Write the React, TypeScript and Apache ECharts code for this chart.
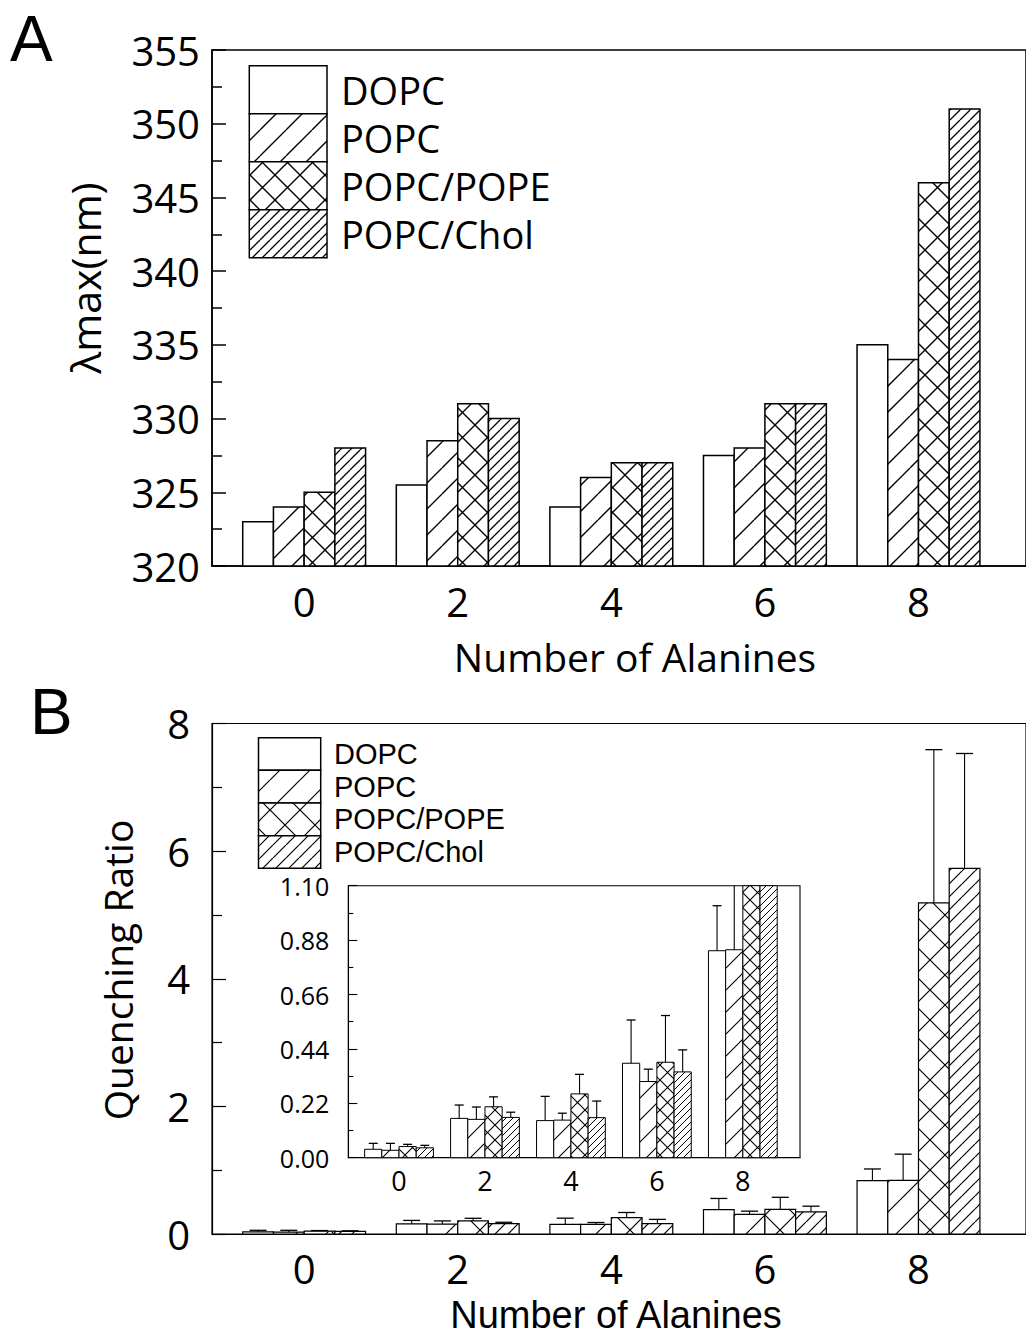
import React, { useEffect, useRef } from 'react';
import * as echarts from 'echarts';

// ---------- data ----------
const alanineLabels = ['0', '2', '4', '6', '8'];
const alaninePos = [0, 2, 4, 6, 8];
const lipids = ['DOPC', 'POPC', 'POPC/POPE', 'POPC/Chol'];

// Panel A: λmax (nm)
const lambdaDOPC = [323, 325.5, 324, 327.5, 335];
const lambdaPOPC = [324, 328.5, 326, 328, 334];
const lambdaPOPE = [325, 331, 327, 331, 346];
const lambdaChol = [328, 330, 327, 331, 351];

// Panel B: quenching ratio (mean) and upper error
const quenchDOPC = [0.034, 0.159, 0.15, 0.382, 0.837];
const quenchPOPC = [0.03, 0.155, 0.152, 0.308, 0.841];
const quenchPOPE = [0.045, 0.206, 0.258, 0.386, 5.19];
const quenchChol = [0.04, 0.163, 0.162, 0.347, 5.73];
const errDOPC = [0.024, 0.054, 0.098, 0.175, 0.182];
const errPOPC = [0.028, 0.05, 0.028, 0.05, 0.41];
const errPOPE = [0.009, 0.04, 0.079, 0.189, 2.4];
const errChol = [0.01, 0.021, 0.067, 0.089, 1.8];

// axis ticks
const yTicksA = [320, 325, 330, 335, 340, 345, 350, 355];
const yTicksB = [0, 2, 4, 6, 8];
const yTicksInset = [0, 0.22, 0.44, 0.66, 0.88, 1.1];

const FONT = "'Open Sans', 'DejaVu Sans', sans-serif";
const FONT2 = "'Liberation Sans', Arial, sans-serif";

function makePattern(kind: string, p: number, lw: number): any {
  if (kind === 'none') return '#fff';
  const c = document.createElement('canvas');
  c.width = p;
  c.height = p;
  const ctx = c.getContext('2d') as CanvasRenderingContext2D;
  ctx.fillStyle = '#fff';
  ctx.fillRect(0, 0, p, p);
  ctx.strokeStyle = '#000';
  ctx.lineWidth = lw;
  ctx.beginPath();
  for (const o of [-p, 0, p]) {
    ctx.moveTo(o, p);
    ctx.lineTo(o + p, 0);
    if (kind === 'cross') {
      ctx.moveTo(o, 0);
      ctx.lineTo(o + p, p);
    }
  }
  ctx.stroke();
  return { image: c, repeat: 'repeat', imageWidth: p, imageHeight: p };
}

function barRenderer(k: number, fill: any, axisMin: number, clipMax: number, capPx: number, lw: number) {
  return (params: any, api: any) => {
    const x = api.value(0);
    const v = api.value(1);
    const e = api.value(2);
    const cx = x + (k - 1.5) * 0.4;
    const left = api.coord([cx - 0.2, axisMin])[0];
    const right = api.coord([cx + 0.2, axisMin])[0];
    const base = api.coord([cx, axisMin])[1];
    const topV = Math.min(v, clipMax);
    const top = api.coord([cx, topV])[1];
    const children: any[] = [
      {
        type: 'rect',
        shape: { x: left, y: top, width: right - left, height: base - top },
        style: { fill, stroke: '#000', lineWidth: lw },
      },
    ];
    if (e > 0 && v < clipMax) {
      const eTop = v + e;
      const ey = api.coord([cx, Math.min(eTop, clipMax)])[1];
      const mx = (left + right) / 2;
      children.push({
        type: 'line',
        shape: { x1: mx, y1: top, x2: mx, y2: ey },
        style: { stroke: '#000', lineWidth: 1.1 },
      });
      if (eTop <= clipMax) {
        children.push({
          type: 'line',
          shape: { x1: mx - capPx / 2, y1: ey, x2: mx + capPx / 2, y2: ey },
          style: { stroke: '#000', lineWidth: 1.3 },
        });
      }
    }
    return { type: 'group', children };
  };
}

export default function App() {
  const ref = useRef<HTMLDivElement>(null);
  useEffect(() => {
    if (!ref.current) return;
    const chart = echarts.init(ref.current, null, { renderer: 'svg' });

    const patA = [makePattern('none', 0, 0), makePattern('fwd', 26, 1.4), makePattern('cross', 25, 1.4), makePattern('fwd', 10, 1.3)];
    const patB = [makePattern('none', 0, 0), makePattern('fwd', 30, 1.2), makePattern('cross', 30, 1.2), makePattern('fwd', 13, 1.2)];
    const patI = [makePattern('none', 0, 0), makePattern('fwd', 22, 1.1), makePattern('cross', 15, 1.1), makePattern('fwd', 7, 1.0)];

    const lambdaSets = [lambdaDOPC, lambdaPOPC, lambdaPOPE, lambdaChol];
    const quenchSets = [quenchDOPC, quenchPOPC, quenchPOPE, quenchChol];
    const errSets = [errDOPC, errPOPC, errPOPE, errChol];

    const series: any[] = [];
    lipids.forEach((name, k) => {
      series.push({
        type: 'custom',
        name,
        xAxisIndex: 0,
        yAxisIndex: 0,
        renderItem: barRenderer(k, patA[k], yTicksA[0], yTicksA[yTicksA.length - 1], 0, 1.5),
        encode: { x: 0, y: 1 },
        data: alaninePos.map((x, i) => [x, lambdaSets[k][i], 0]),
      });
      series.push({
        type: 'custom',
        name,
        xAxisIndex: 1,
        yAxisIndex: 1,
        renderItem: barRenderer(k, patB[k], yTicksB[0], yTicksB[yTicksB.length - 1], 17, 1.2),
        encode: { x: 0, y: 1 },
        data: alaninePos.map((x, i) => [x, quenchSets[k][i], errSets[k][i]]),
      });
      series.push({
        type: 'custom',
        name,
        xAxisIndex: 2,
        yAxisIndex: 2,
        z: 5,
        renderItem: barRenderer(k, patI[k], yTicksInset[0], yTicksInset[yTicksInset.length - 1], 9, 1.0),
        encode: { x: 0, y: 1 },
        data: alaninePos.map((x, i) => [x, quenchSets[k][i], errSets[k][i]]),
      });
    });

    const xAxisBase = (gridIndex: number, min: number, max: number, fontSize: number, margin: number, lw: number) => ({
      gridIndex,
      type: 'value',
      min,
      max,
      axisLine: { show: true, onZero: false, lineStyle: { color: '#000', width: lw } },
      axisTick: { show: false },
      splitLine: { show: false },
      axisLabel: {
        customValues: alaninePos,
        formatter: (v: number) => alanineLabels[alaninePos.indexOf(v)] ?? '',
        fontSize,
        fontFamily: FONT,
        color: '#000',
        margin,
      },
    });

    const yAxisBase = (
      gridIndex: number,
      ticks: number[],
      fontSize: number,
      margin: number,
      tickLen: number,
      minorLen: number,
      lw: number,
      fmt?: (v: number) => string
    ) => ({
      gridIndex,
      type: 'value',
      min: ticks[0],
      max: ticks[ticks.length - 1],
      interval: ticks[1] - ticks[0],
      axisLine: { show: true, onZero: false, lineStyle: { color: '#000', width: lw } },
      axisTick: { show: true, inside: true, length: tickLen, lineStyle: { color: '#000', width: lw } },
      minorTick: { show: true, splitNumber: 2, length: minorLen, lineStyle: { color: '#000', width: lw } },
      splitLine: { show: false },
      axisLabel: {
        fontSize,
        fontFamily: FONT,
        color: '#000',
        margin,
        formatter: fmt || ((v: number) => String(v)),
      },
    });

    const legendGraphics = (
      x: number,
      y: number,
      w: number,
      h: number,
      pats: any[],
      tx: number,
      fs: number,
      family: string
    ) => {
      const els: any[] = [];
      lipids.forEach((name, k) => {
        els.push({
          type: 'rect',
          shape: { x, y: y + k * h, width: w, height: h },
          style: { fill: pats[k], stroke: '#000', lineWidth: 1.5 },
        });
        els.push({
          type: 'text',
          x: tx,
          y: y + k * h + h / 2,
          style: {
            text: name,
            fontSize: fs,
            lineHeight: Math.min(fs, h - 1),
            fontFamily: family,
            fill: '#000',
            align: 'left',
            verticalAlign: 'middle',
          },
        });
      });
      return els;
    };

    const textEl = (text: string, x: number, y: number, fs: number, rot = 0, align = 'center', family = FONT) => ({
      type: 'text',
      x,
      y,
      rotation: rot,
      style: {
        text,
        fontSize: fs,
        lineHeight: fs,
        fontFamily: family,
        fill: '#000',
        align,
        verticalAlign: 'middle',
      },
    });

    chart.setOption({
      animation: false,
      backgroundColor: '#fff',
      grid: [
        { left: 212, top: 50, width: 830, height: 516, show: true, borderColor: '#000', borderWidth: 1.5, backgroundColor: 'transparent' },
        { left: 212, top: 723.5, width: 830, height: 510.5, show: true, borderColor: '#000', borderWidth: 1.2, backgroundColor: 'transparent' },
        { left: 348.3, top: 885.7, width: 451.7, height: 272, show: true, borderColor: '#000', borderWidth: 1.1, backgroundColor: '#fff', z: 3 },
      ],
      xAxis: [
        xAxisBase(0, -1.2, 9.4, 40, 15, 1.5),
        xAxisBase(1, -1.2, 9.4, 40, 14, 1.2),
        { ...xAxisBase(2, -1.18, 9.33, 27, 9, 1.1), z: 4 },
      ],
      yAxis: [
        yAxisBase(0, yTicksA, 40, 12, 14, 10, 1.5),
        yAxisBase(1, yTicksB, 40, 22, 14, 10, 1.2),
        { ...yAxisBase(2, yTicksInset, 25, 19, 9, 5, 1.1, (v: number) => v.toFixed(2)), z: 4 },
      ],
      series,
      graphic: [
        textEl('A', 10, 39, 64, 0, 'left', FONT2),
        textEl('B', 30, 712, 64, 0, 'left', FONT2),
        textEl('λmax(nm)', 85, 278, 41, Math.PI / 2),
        textEl('Number of Alanines', 635, 656, 39),
        textEl('Quenching Ratio', 117, 970, 39, Math.PI / 2),
        textEl('Number of Alanines', 616, 1315, 38, 0, 'center', FONT2),
        ...legendGraphics(249.3, 65.7, 77.7, 48, patA, 341, 38, FONT),
        ...legendGraphics(258.5, 737.7, 62.2, 32.65, patB, 334, 29, FONT2),
      ],
    });

    return () => {
      chart.dispose();
    };
  }, []);

  return <div ref={ref} style={{ position: 'absolute', left: 0, top: 0, width: 1026, height: 1338 }} />;
}
